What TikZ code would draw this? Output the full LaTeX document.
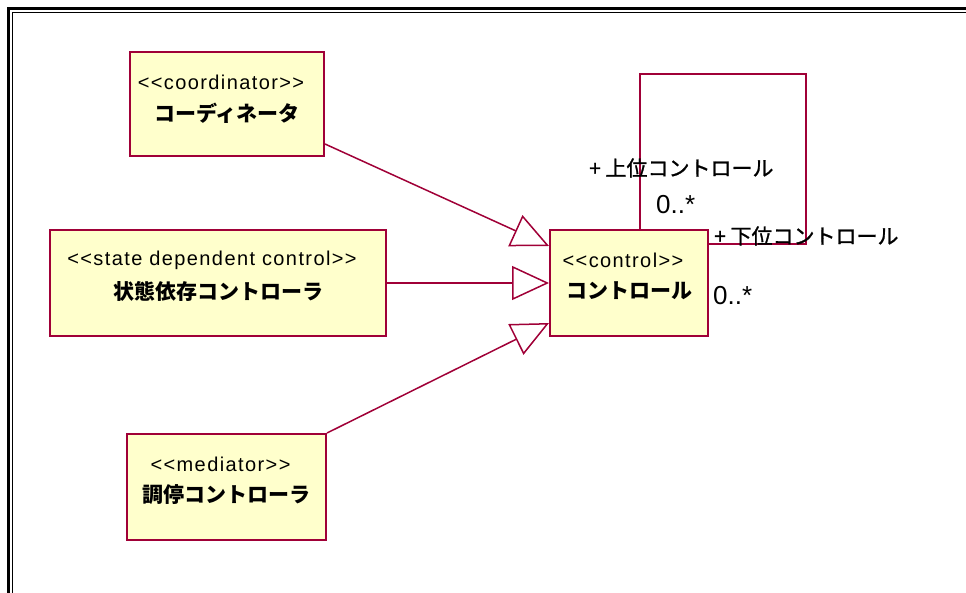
\documentclass[tikz,border=0pt]{standalone}
\usepackage{fontspec}
\setmainfont{Liberation Sans}
\newfontfamily\stereofont{Liberation Sans}[LetterSpace=7, Ligatures=TeXOff]
\newfontfamily\jpfont{Noto Sans CJK JP}
\newfontfamily\jprolefont{Noto Sans CJK JP}[FakeBold=1.2]
\usetikzlibrary{arrows.meta}
\usetikzlibrary{positioning}
\definecolor{umlred}{RGB}{160,0,55}
\definecolor{umlfill}{RGB}{255,255,204}

\begin{document}
\begin{tikzpicture}[
		x=1pt, y=-1pt,
		cls/.style={draw=umlred, fill=umlfill, line width=2pt, inner sep=0pt},
		stereo/.style={font=\stereofont\fontsize{20}{22}\selectfont, inner sep=0pt},
		clsname/.style={font=\jpfont\bfseries\fontsize{21}{23}\selectfont, inner sep=0pt},
		role/.style={font=\jprolefont\fontsize{21}{23}\selectfont, inner sep=0pt, anchor=west},
		mult/.style={font=\fontsize{26}{28}\selectfont, inner sep=0pt, anchor=west},
		gen/.style={umlred, line width=1.5pt, -{Triangle[open, length=37pt, width=34pt]}},
		assoc/.style={umlred, line width=1.5pt}
	]

	\useasboundingbox (0,0) rectangle (966,593);

	% double frame
	\draw[line width=2.5pt] (8.5,600) -- (8.5,8.5) -- (970,8.5);
	\draw[line width=1.5pt] (12.5,600) -- (12.5,12.5) -- (970,12.5);

	% classes: stereotype on top, name below
	\foreach \id/\cx/\cy/\w/\h/\st/\nm in {
			coord/227/104/194/104/coordinator/コーディネータ,
			state/218/283/336/106/state dependent control/状態依存コントローラ,
			med/226.5/487/199/106/mediator/調停コントローラ,
			ctrl/629/283/158/106/control/コントロール} {
			\node[cls, minimum width=\w, minimum height=\h] (\id) at (\cx,\cy) {};
			\node[stereo] (\id-st) at ([shift={(-6,31)}]\id.north) {<<\st>>};
			\node[clsname] (\id-nm) at ([shift={(0,62)}]\id.north) {\nm};
		}

	% generalizations
	\draw[gen] ([shift={(0,40)}]coord.east) -- ([shift={(0,-37)}]ctrl.west);
	\draw[gen] (state) -- (ctrl);
	\draw[gen] (med.north east) -- ([shift={(0,40)}]ctrl.west);

	% self association
	\draw[assoc] ([shift={(11,0)}]ctrl.north) |- (806,74) |- ([shift={(0,-39)}]ctrl.east);

	% role names and multiplicities
	\node[role] (upper) at (589,168) {+ 上位コントロール};
	\node[mult] (uppermult) at (656,205) {0..*};
	\node[role] (lower) at (714,236) {+ 下位コントロール};
	\node[mult] (lowermult) at (713,296) {0..*};

\end{tikzpicture}
\end{document}
